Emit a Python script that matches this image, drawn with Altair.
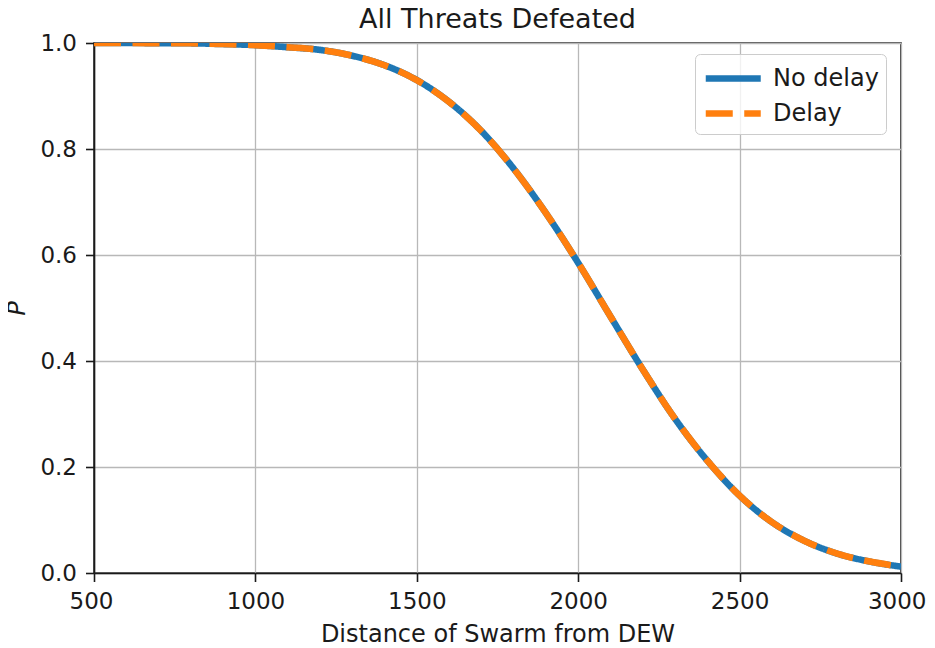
import altair as alt
import pandas as pd

distance = [500, 600, 700, 800, 900, 1000, 1100, 1200, 1300, 1400, 1500, 1600, 1700,
            1800, 1900, 2000, 2100, 2200, 2300, 2400, 2500, 2600, 2700, 2800, 2900, 3000]
p_no_delay = [1.0, 1.0, 0.9997, 0.9994, 0.998, 0.996, 0.992, 0.987, 0.976, 0.958, 0.930,
              0.889, 0.834, 0.763, 0.679, 0.585, 0.484, 0.384, 0.291, 0.212, 0.146,
              0.096, 0.061, 0.037, 0.022, 0.012]
p_delay = [1.0, 1.0, 0.9997, 0.9994, 0.998, 0.996, 0.992, 0.987, 0.976, 0.958, 0.930,
           0.889, 0.834, 0.763, 0.679, 0.585, 0.484, 0.384, 0.291, 0.212, 0.146,
           0.096, 0.061, 0.037, 0.022, 0.012]
series_names = ["No delay", "Delay"]
x_ticks = [500, 1000, 1500, 2000, 2500, 3000]
y_ticks = [0.0, 0.2, 0.4, 0.6, 0.8, 1.0]

rows = []
for name, vals in zip(series_names, [p_no_delay, p_delay]):
    for d, v in zip(distance, vals):
        rows.append({"Distance": d, "P": v, "Series": name})
df = pd.DataFrame(rows)

FONT = "DejaVu Sans"
TXT = "#1a1a1a"

color_scale = alt.Scale(domain=series_names, range=["#1f77b4", "#ff7f0e"])
dash_scale = alt.Scale(domain=series_names, range=[[1, 0], [27, 11.5]])

legend = alt.Legend(
    title=None, orient="none", legendX=601, legendY=11,
    symbolType="M-1,0H3", symbolSize=756, symbolStrokeWidth=6.6,
    labelFontSize=24, labelFont=FONT, labelColor=TXT, labelOffset=36,
    padding=7, rowPadding=4, fillColor="rgba(255,255,255,0.8)",
    strokeColor="#cccccc", cornerRadius=5,
)

x_enc = alt.X("Distance:Q", scale=alt.Scale(domain=[500, 3000], nice=False),
              axis=alt.Axis(values=x_ticks, format="d", title="Distance of Swarm from DEW",
                            labelPadding=9, titlePadding=9, labelFlush=True,
                            labelFlushOffset=25))
y_enc = alt.Y("P:Q", scale=alt.Scale(domain=[0, 1], nice=False),
              axis=alt.Axis(values=y_ticks, format=".1f", title="P", titleFontStyle="italic",
                            titleFontWeight="normal", labelPadding=9, titlePadding=10,
                            labelFlush=False))

def layer(name):
    return alt.Chart(df).transform_filter(alt.datum.Series == name).mark_line(
        strokeWidth=6.6, clip=True, interpolate="monotone", strokeCap="butt"
    ).encode(
        x=x_enc, y=y_enc,
        color=alt.Color("Series:N", scale=color_scale, legend=legend),
        strokeDash=alt.StrokeDash("Series:N", scale=dash_scale, legend=legend),
    )

chart = alt.layer(layer("No delay"), layer("Delay")).properties(
    width=807, height=530,
    background="white",
    title=alt.TitleParams("All Threats Defeated", font=FONT, fontSize=27,
                          fontWeight="normal", color=TXT, offset=0, dy=2, frame="group"),
    autosize=alt.AutoSizeParams(type="none"),
    padding={"left": 86, "top": 35, "right": 26, "bottom": 75},
).configure_view(
    stroke="#1a1a1a", strokeWidth=1.6
).configure_axis(
    labelFont=FONT, labelFontSize=23, labelColor=TXT,
    titleFont=FONT, titleFontSize=24, titleColor=TXT, titleFontWeight="normal",
    grid=True, gridColor="#b8b8b8", gridWidth=1.3,
    domainColor="#1a1a1a", domainWidth=1.6,
    tickColor="#1a1a1a", tickWidth=1.6, tickSize=8.5,
)

chart.save("out.html", embed_options={"renderer": "svg", "actions": False})
